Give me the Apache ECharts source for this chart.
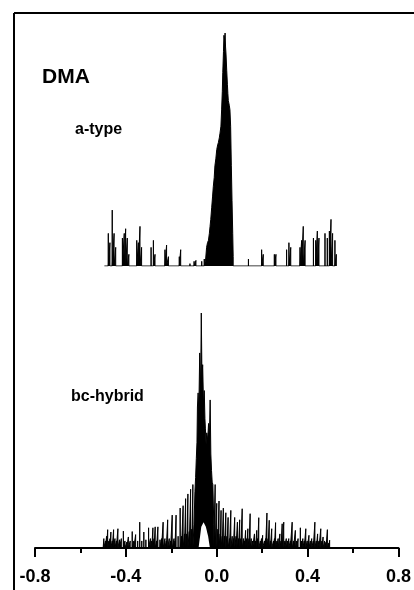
<!DOCTYPE html>
<html>
<head>
<meta charset="utf-8">
<script src="https://cdn.jsdelivr.net/npm/echarts@6/dist/echarts.min.js"></script>
<style>html,body{margin:0;padding:0;background:#fff}#c{width:414px;height:590px}</style>
</head>
<body>
<div id="c"></div>
<script>
// ---- data (x = frequency offset, h = relative intensity) ----
var xTicks = [-0.8, -0.4, 0.0, 0.4, 0.8];
var aRange = [-0.5, 0.505];
var aStickX = [-0.483,-0.476,-0.466,-0.458,-0.451,-0.422,-0.414,-0.408,-0.401,-0.394,-0.360,-0.353,-0.346,-0.339,-0.298,-0.288,-0.281,-0.238,-0.231,-0.223,-0.176,-0.170,-0.130,-0.112,-0.104,-0.079,-0.068,
  0.123,0.180,0.187,0.235,0.242,0.288,0.298,0.306,0.346,0.353,0.360,0.368,0.404,0.414,0.421,0.428,0.454,0.464,0.473,0.480,0.487,0.497,0.503];
var aStickH = [14,10,24,14,8,12,14,16,12,5,11,10,17,8,8,11,5,7,9,4,4,7,1,2,2.4,2,3,
  3,7,5,5,5,7,10,8,8,11,17,11,12,11,15,12,14,12,15,20,14,11,5];
var aPeakX = [-0.062,-0.058,-0.054,-0.050,-0.046,-0.043,-0.040,-0.036,-0.032,-0.029,-0.025,-0.022,-0.018,-0.014,-0.010,-0.007,-0.003,0.000,0.004,0.007,0.010,0.012,0.015,0.017,0.020,0.022,0.024,0.026,0.029,0.032,0.034,0.036,0.040,0.043,0.046,0.049,0.052,0.055,0.057];
var aPeakH = [3,8,10,11,14,17,20,25,30,34,38,43,46,50,52,53,55,57,60,67,75,83,92,99,97,100,94,91,84,78,74,71,69,67,60,43,28,14,4];

var bRange = [-0.5, 0.5];
var bStickX = [-0.497,-0.490,-0.485,-0.480,-0.475,-0.470,-0.466,-0.460,-0.454,-0.448,-0.442,-0.435,-0.428,-0.420,-0.411,-0.404,-0.396,-0.389,-0.381,-0.372,-0.365,-0.357,-0.348,-0.339,-0.330,-0.321,-0.312,-0.300,-0.292,-0.286,-0.281,-0.276,-0.271,-0.265,-0.259,-0.250,-0.243,-0.236,-0.228,-0.222,-0.216,-0.209,-0.203,-0.196,-0.188,-0.184,-0.179,-0.170,-0.161,-0.155,-0.148,-0.142,-0.137,-0.132,-0.127,-0.121,-0.115,-0.110,-0.105,
  -0.007,0.000,0.005,0.010,0.015,0.019,0.024,0.029,0.034,0.040,0.045,0.050,0.056,0.062,0.068,0.073,0.079,0.085,0.091,0.096,0.101,0.106,0.112,0.118,0.122,0.127,0.132,0.137,0.142,0.147,0.152,0.158,0.166,0.171,0.176,0.180,0.185,0.192,0.197,0.202,0.210,0.215,0.221,0.226,0.231,0.236,0.242,0.250,0.254,0.259,0.265,0.270,0.278,0.283,0.288,0.295,0.300,0.306,0.311,0.317,0.324,0.332,0.338,0.346,0.352,0.358,0.368,0.373,0.379,0.385,0.392,0.398,0.406,0.412,0.418,0.425,0.432,0.438,0.444,0.450,0.458,0.463,0.468,0.475,0.481,0.487,0.492,0.497];
var bStickH = [4,3,5,7.8,3,4,6.8,3,7.8,4,3,8.2,3.5,4,7.2,3,2.5,4.7,3,7,3,5.7,3,11,3,6.8,3.5,8.6,4,3,8.6,4,9,3,9,3.5,4,11,4,3,12,4,3,14,4,3,14,5,17,5,18,6,21,6,23,7,25,8,27,
  27,19,8,20,6,16,5,17,5,15,5,13,4,16,5,4,13,5,11,4,12,4,16.7,4,3,7.5,4,8.2,4,14.6,4,3,6,3,7.5,4,12.9,3,4,5.4,3,4,14.9,4,11.8,3,8.2,3,4,10.8,3,4,6,3,10.3,11,3,4,3,4,3,11,3,7.5,3,4,8.6,3,4,3,8.2,3,5.4,3,4,3,11,3,6,3,8.2,3,4.7,3,2.5,7.8,2,3.3];
var bPeakX = [-0.100,-0.096,-0.093,-0.090,-0.087,-0.085,-0.082,-0.079,-0.075,-0.071,-0.068,-0.065,-0.062,-0.058,-0.055,-0.052,-0.050,-0.047,-0.044,-0.040,-0.036,-0.032,-0.029,-0.026,-0.023,-0.020,-0.017,-0.013];
var bPeakH = [10,24,30,38,45,60,66,58,83,68,100,72,78,60,67,55,51,44,49,46,53,48,63,40,33,28,27,10];
// blank gap seen under the bc-hybrid central cluster
var bGapX = [-0.080,-0.068,-0.058,-0.048,-0.038,-0.030];
var bGapH = [0,9,11,9,5,0];

// ---- build line data from the arrays ----
function buildSpectrum(range, sx, sh, px, ph) {
  var pts = [[range[0], 0]];
  var i;
  for (i = 0; i < sx.length; i++) if (sx[i] < px[0]) { pts.push([sx[i],0],[sx[i],sh[i]],[sx[i],0]); }
  pts.push([px[0], 0]);
  for (i = 0; i < px.length; i++) pts.push([px[i], ph[i]]);
  pts.push([px[px.length-1], 0]);
  for (i = 0; i < sx.length; i++) if (sx[i] > px[px.length-1]) { pts.push([sx[i],0],[sx[i],sh[i]],[sx[i],0]); }
  pts.push([range[1], 0]);
  return pts;
}
var aData = buildSpectrum(aRange, aStickX, aStickH, aPeakX, aPeakH);
var bData = buildSpectrum(bRange, bStickX, bStickH, bPeakX, bPeakH);
var gapData = bGapX.map(function (x, i) { return [x, bGapH[i]]; });

var FONT = 'Liberation Sans';
var chart = echarts.init(document.getElementById('c'), null, {renderer: 'canvas'});
chart.setOption({
  animation: false,
  backgroundColor: '#fff',
  grid: [
    {left: 35, right: 9, top: 33, bottom: 324},
    {left: 35, right: 9, top: 313, bottom: 42}
  ],
  xAxis: [
    {gridIndex: 0, type: 'value', min: xTicks[0], max: xTicks[xTicks.length-1], interval: 0.4, show: false},
    {gridIndex: 1, type: 'value', min: xTicks[0], max: xTicks[xTicks.length-1], interval: 0.4, z: 10,
      axisLine: {show: true, onZero: false, lineStyle: {color: '#000', width: 2}},
      axisTick: {show: true, length: 9, lineStyle: {color: '#000', width: 2}},
      minorTick: {show: true, splitNumber: 2, length: 5, lineStyle: {color: '#000', width: 2}},
      splitLine: {show: false},
      axisLabel: {show: true, showMaxLabel: true, showMinLabel: true, margin: 20, color: '#000',
        fontSize: 18, fontWeight: 'bold', fontFamily: FONT,
        formatter: function (v) { return v.toFixed(1); }}
    }
  ],
  yAxis: [
    {gridIndex: 0, type: 'value', min: 0, max: 100, show: false},
    {gridIndex: 1, type: 'value', min: 0, max: 100, show: false}
  ],
  series: [
    {type: 'line', xAxisIndex: 0, yAxisIndex: 0, data: aData, showSymbol: false, silent: true,
      lineStyle: {color: '#000', width: 1}, areaStyle: {color: '#000', opacity: 1}},
    {type: 'line', xAxisIndex: 1, yAxisIndex: 1, data: bData, showSymbol: false, silent: true,
      lineStyle: {color: '#000', width: 1}, areaStyle: {color: '#000', opacity: 1}},
    {type: 'line', xAxisIndex: 1, yAxisIndex: 1, data: gapData, showSymbol: false, silent: true,
      lineStyle: {width: 0, color: '#fff'}, areaStyle: {color: '#fff', opacity: 1}}
  ],
  graphic: [
    {type: 'line', shape: {x1: 14, y1: 13, x2: 414, y2: 13}, style: {stroke: '#000', lineWidth: 2}},
    {type: 'line', shape: {x1: 14, y1: 13, x2: 14, y2: 590}, style: {stroke: '#000', lineWidth: 2}},
    {type: 'text', left: 42, top: 67, style: {text: 'DMA', fill: '#000', font: 'bold 21px "Liberation Sans"'}},
    {type: 'text', left: 75, top: 122, style: {text: 'a-type', fill: '#000', font: 'bold 16px "Liberation Sans"'}},
    {type: 'text', left: 71, top: 389, style: {text: 'bc-hybrid', fill: '#000', font: 'bold 16px "Liberation Sans"'}}
  ]
});
</script>
</body>
</html>
